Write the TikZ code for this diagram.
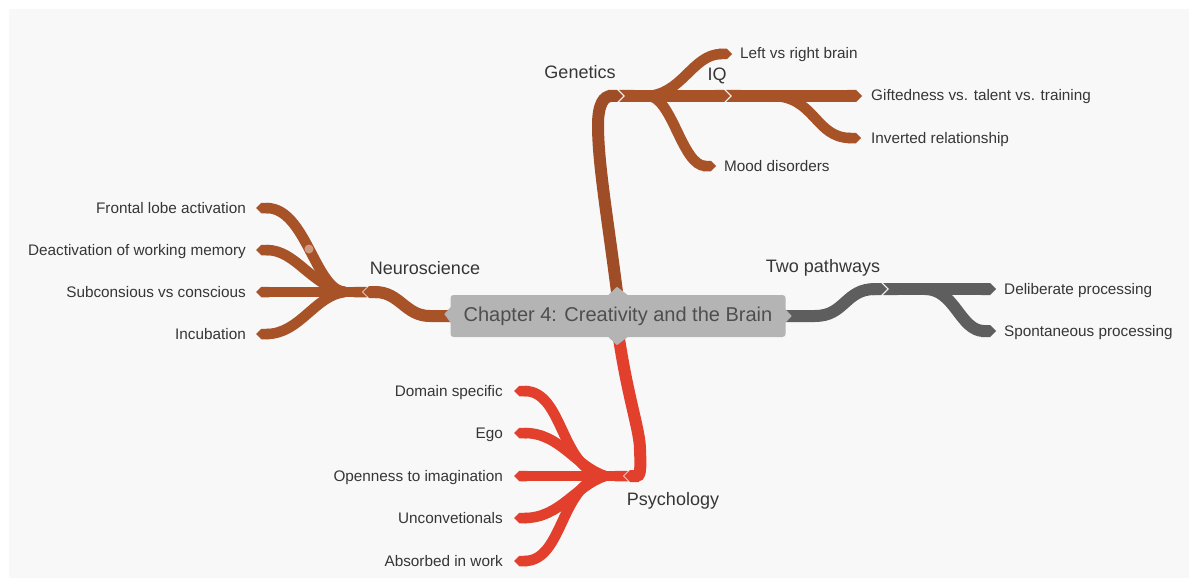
\documentclass[tikz,border=0pt]{standalone}
\usepackage{fontspec}
\setmainfont{Liberation Sans}
\usetikzlibrary{arrows.meta,calc}
\definecolor{pagebg}{HTML}{F8F8F8}
\definecolor{rust}{HTML}{A85228}
\definecolor{rustdark}{HTML}{9E4D27}
\definecolor{scarlet}{HTML}{E2402D}
\definecolor{slate}{HTML}{5E5E5E}
\definecolor{centerfill}{HTML}{B4B4B4}
\definecolor{txt}{HTML}{363636}
\definecolor{centertxt}{HTML}{4E4E4E}
\definecolor{dotpink}{HTML}{D9A590}
\begin{document}
\begin{tikzpicture}[x=1pt,y=-1pt,
  trunk/.style={line width=12pt,draw=#1},
  twig/.style={line width=10.5pt,draw=#1},
  pointed/.style={-{Triangle Cap}},
  notched/.style={{Triangle Cap[reversed]}-{Triangle Cap}},
  leaftext/.style={font=\fontsize{15.3}{18}\selectfont,text=txt,inner sep=0pt,text height=11pt,text depth=3pt},
  topictext/.style={font=\fontsize{18}{21}\selectfont,text=txt,inner sep=0pt,text height=13pt,text depth=4pt},
]
\useasboundingbox (0,0) rectangle (1198,583);
\fill[white] (0,0) rectangle (1198,583);
\fill[pagebg] (9,9) rectangle (1189,578);

% ---- anchor points of the map ----
\coordinate (ctop) at (618,300);
\coordinate (cbot) at (618,332);
\coordinate (cleft) at (456,316);
\coordinate (cright) at (780,316);

\coordinate (gin) at (623,96);
\coordinate (g) at (619,96);
\coordinate (g-brain) at (645,96);
\coordinate (g-mood) at (648,96);
\coordinate (qin) at (730,96);
\coordinate (q) at (726,96);
\coordinate (q-inv) at (772,96);
\coordinate (brain) at (732,54);
\coordinate (gift) at (862,96);
\coordinate (inv) at (861,138);
\coordinate (mood) at (716,166);

\coordinate (nin) at (363,292);
\coordinate (n) at (367,292);
\coordinate (n-a) at (345,292);
\coordinate (frontal) at (256,208);
\coordinate (deact) at (256,250);
\coordinate (subcon) at (256,292);
\coordinate (incub) at (256,334);

\coordinate (tin) at (887,289);
\coordinate (t) at (883,289);
\coordinate (t-a) at (925,289);
\coordinate (delib) at (996,289);
\coordinate (spont) at (996,331);

\coordinate (pin) at (624,476);
\coordinate (p) at (628,476);
\coordinate (p-a) at (605,476);
\coordinate (domain) at (514,391);
\coordinate (ego) at (514,433);
\coordinate (open) at (514,476);
\coordinate (uncon) at (514,518);
\coordinate (absorb) at (514,561);

% ---- Genetics ----
\draw[trunk=rustdark,pointed] (ctop) .. controls (608,220) and (598,165) .. (598,125)
  .. controls (598,104) and (604,96) .. (gin);
\draw[trunk=rust,notched] (g) -- (qin);
\draw[twig=rust,pointed] (g-brain) .. controls +(37,0) and +(-40,0) .. (brain);
\draw[twig=rust,pointed] (g-mood) .. controls +(24,0) and +(-34,0) .. (mood);
\draw[trunk=rust,notched] (q) -- (gift);
\draw[twig=rust,pointed] (q-inv) .. controls +(43,0) and +(-46,0) .. (inv);

% ---- Neuroscience ----
\draw[trunk=rust,pointed] (cleft) -- (430,316) .. controls (405,316) and (400,292) .. (nin);
\draw[twig=rust,notched] (n) -- (subcon);
\draw[twig=rust,pointed] (n-a) .. controls +(-30,-2) and +(50,0) .. (frontal);
\draw[twig=rust,pointed] (n-a) .. controls +(-35,-7) and +(40,0) .. (deact);
\draw[twig=rust,pointed] (n-a) .. controls +(-30,3) and +(44,0) .. (incub);
\fill[dotpink,opacity=0.85] (309,249) circle (4.5);

% ---- Two pathways ----
\draw[trunk=slate,pointed] (cright) -- (815,316) .. controls (845,316) and (845,289) .. (tin);
\draw[trunk=slate,notched] (t) -- (delib);
\draw[trunk=slate,pointed] (t-a) .. controls +(30,0) and +(-36,0) .. (spont);

% ---- Psychology ----
\draw[trunk=scarlet,pointed] (cbot) .. controls (628,400) and (640,430) .. (640,450)
  .. controls (641,472) and (640,476) .. (pin);
\draw[twig=scarlet,notched] (p) -- (open);
\draw[twig=scarlet,pointed] (p-a) .. controls +(-45,-6) and +(50,0) .. (domain);
\draw[twig=scarlet,pointed] (p-a) .. controls +(-30,-10) and +(46,0) .. (ego);
\draw[twig=scarlet,pointed] (p-a) .. controls +(-30,10) and +(46,0) .. (uncon);
\draw[twig=scarlet,pointed] (p-a) .. controls +(-45,6) and +(50,0) .. (absorb);

% ---- central topic ----
\node[fill=centerfill,rounded corners=3pt,minimum width=335pt,minimum height=42pt,
  inner sep=0pt,font=\fontsize{20}{24}\selectfont,text=centertxt] (c) at (618,316)
  {Chapter 4: Creativity and the Brain};
\fill[centerfill] ($(c.north)+(-10,0.5)$) -- ($(c.north)+(-1,-8)$) -- ($(c.north)+(10,0.5)$) -- cycle;
\fill[centerfill] ($(c.south)+(-10,-0.5)$) -- ($(c.south)+(-1,8)$) -- ($(c.south)+(10,-0.5)$) -- cycle;
\fill[centerfill] ($(c.west)+(0.5,-9)$) -- ($(c.west)+(-6,-2)$) -- ($(c.west)+(0.5,7)$) -- cycle;
\fill[centerfill] ($(c.east)+(-0.5,-7)$) -- ($(c.east)+(6,0)$) -- ($(c.east)+(-0.5,7)$) -- cycle;

% ---- topic labels ----
\node[topictext] (lgen) at (580,74) {Genetics};
\node[topictext] (liq) at (717,76) {IQ};
\node[topictext] (lneuro) at (425,269.5) {Neuroscience};
\node[topictext] (ltwo) at (823,267.5) {Two pathways};
\node[topictext] (lpsy) at (673,500.5) {Psychology};

% ---- leaf labels ----
\node[leaftext,anchor=west] (tbrain) at (740,55) {Left vs right brain};
\node[leaftext,anchor=west] (tgift) at (871,97) {Giftedness vs. talent vs. training};
\node[leaftext,anchor=west] (tinv) at (871,139) {Inverted relationship};
\node[leaftext,anchor=west] (tmood) at (724,167) {Mood disorders};

\node[leaftext,anchor=east] (tfrontal) at (246,209) {Frontal lobe activation};
\node[leaftext,anchor=east] (tdeact) at (246,251) {Deactivation of working memory};
\node[leaftext,anchor=east] (tsubcon) at (246,293) {Subconsious vs conscious};
\node[leaftext,anchor=east] (tincub) at (246,335) {Incubation};

\node[leaftext,anchor=west] (tdelib) at (1004,290) {Deliberate processing};
\node[leaftext,anchor=west] (tspont) at (1004,332) {Spontaneous processing};

\node[leaftext,anchor=east] (tdomain) at (503,392) {Domain specific};
\node[leaftext,anchor=east] (tego) at (503,434) {Ego};
\node[leaftext,anchor=east] (topen) at (503,477) {Openness to imagination};
\node[leaftext,anchor=east] (tuncon) at (503,519) {Unconvetionals};
\node[leaftext,anchor=east] (tabsorb) at (503,562) {Absorbed in work};
\end{tikzpicture}
\end{document}
